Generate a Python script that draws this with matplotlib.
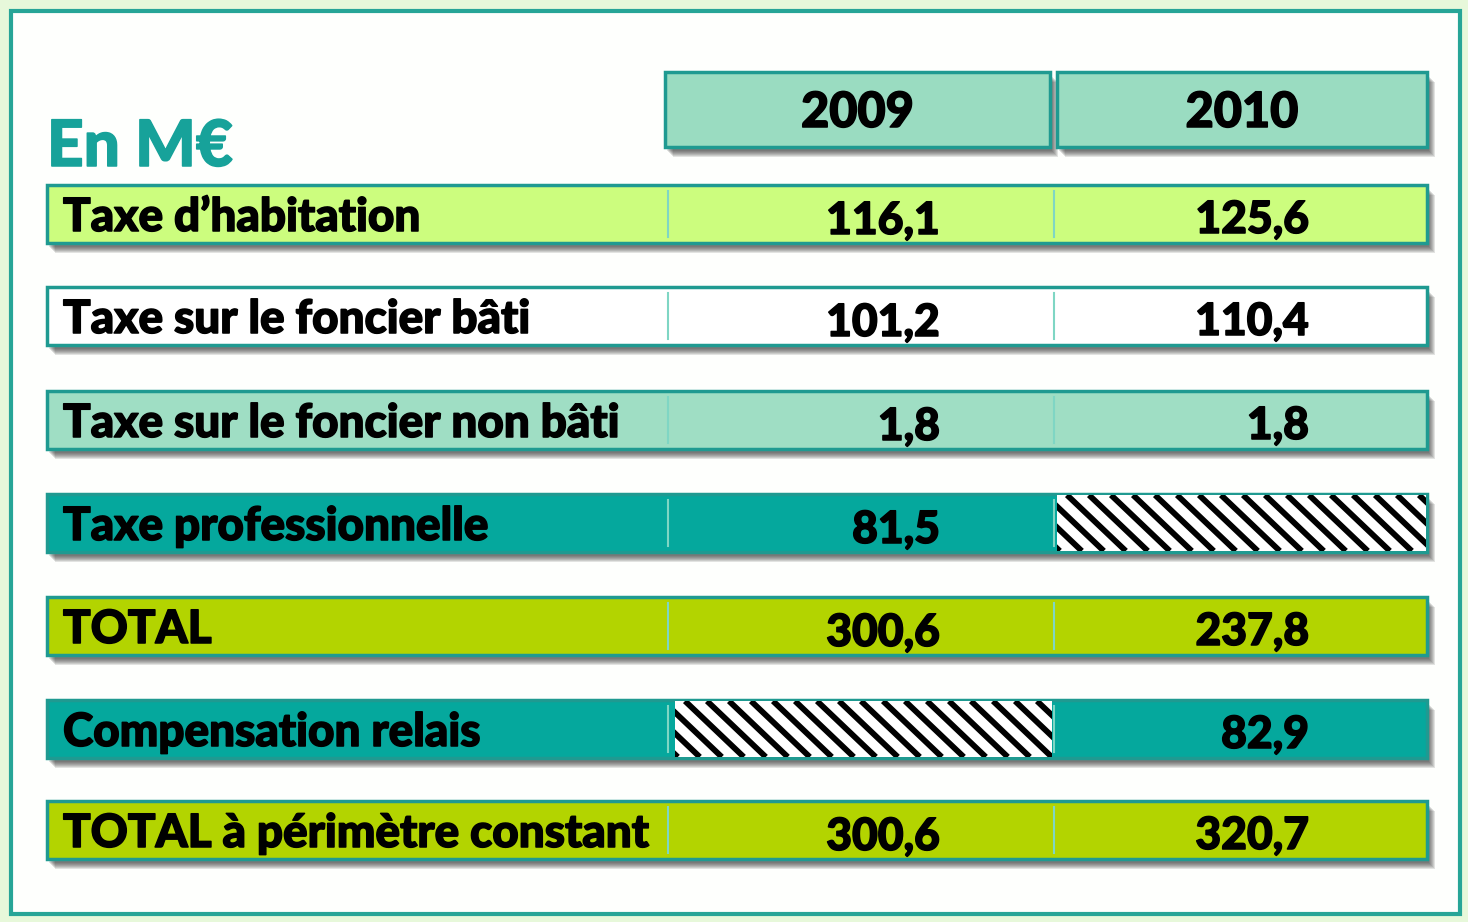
import numpy as np
import matplotlib
matplotlib.use("Agg")
import matplotlib.pyplot as plt
import matplotlib.patheffects as pe
from matplotlib.patches import Rectangle

# ---- data ----
title = "En M€"
years = ["2009", "2010"]
labels = ["Taxe d’habitation", "Taxe sur le foncier bâti", "Taxe sur le foncier non bâti",
          "Taxe professionnelle", "TOTAL", "Compensation relais", "TOTAL à périmètre constant"]
v2009 = [116.1, 101.2, 1.8, 81.5, 300.6, None, 300.6]
v2010 = [125.6, 110.4, 1.8, None, 237.8, 82.9, 320.7]
row_colors = ["#ccfd7e", "#ffffff", "#9fdec4", "#05a89d", "#b3d400", "#05a89d", "#b3d400"]

# ---- layout (pixels) ----
W, H = 1468, 922
row_tops = [185, 287, 391, 494, 597, 700, 801]
row_h = 58
x_left, x_c1, x_c2, x_right = 47, 668, 1054, 1427
border = "#1f9a91"
font = "Lato"
wt = "black"
bold_fx = [pe.withStroke(linewidth=1.1, foreground="black")]

fig = plt.figure(figsize=(W / 100, H / 100), dpi=100)
fig.patch.set_facecolor("#e7f8da")
ax = fig.add_axes([0, 0, 1, 1])
ax.set_xlim(0, W)
ax.set_ylim(H, 0)
ax.axis("off")

# outer frame
ax.add_patch(Rectangle((11, 11), W - 19, H - 19, facecolor="#fefffd",
                       edgecolor="#27a597", lw=3, zorder=1))


def shadow(x, y, w, h):
    for k in range(7):
        off = 2 + k
        ax.add_patch(Rectangle((x + off, y + off + 2), w, h, facecolor="#2a2a2a",
                               edgecolor="none", alpha=0.13, zorder=2))


def hatch_cell(x, y, w, h):
    bg = Rectangle((x, y), w, h, facecolor="white", edgecolor="none", zorder=5)
    ax.add_patch(bg)
    period = 22
    xs = np.arange(x - h - period, x + w + period, period)
    for x0 in xs:
        ln, = ax.plot([x0, x0 + h * 1.05], [y, y + h], color="black", lw=4.2,
                      solid_capstyle="butt", zorder=6)
        ln.set_clip_path(bg)


# title
ax.text(47, 166, title, fontsize=46, fontweight=wt, color="#17a29a",
        family=font, va="baseline", ha="left", zorder=10,
        path_effects=[pe.withStroke(linewidth=1.1, foreground="#17a29a")])

# header boxes
hdr = [(665, 1050), (1057, 1427)]
for (a, b), yr in zip(hdr, years):
    shadow(a, 72, b - a, 75)
    ax.add_patch(Rectangle((a, 72), b - a, 75, facecolor="#9adcc1",
                           edgecolor=border, lw=2.5, zorder=3))
    ax.text((a + b) / 2, 127, yr, fontsize=35, fontweight=wt, color="black",
            family=font, ha="center", va="baseline", zorder=10, path_effects=bold_fx)


def fmt(v):
    return f"{v:.1f}".replace(".", ",")


for i, lab in enumerate(labels):
    y = row_tops[i]
    shadow(x_left, y, x_right - x_left, row_h)
    ax.add_patch(Rectangle((x_left, y), x_right - x_left, row_h, facecolor=row_colors[i],
                           edgecolor=border, lw=2.5, zorder=3))
    # column separators
    for xc in (x_c1, x_c2):
        ax.plot([xc, xc], [y + 6, y + row_h - 6], color="#7fd6c4", lw=1.5, zorder=4)
    ax.text(63, y + 46, lab, fontsize=33, fontweight=wt, color="black",
            family=font, ha="left", va="baseline", zorder=10, path_effects=bold_fx)
    if v2009[i] is None:
        hatch_cell(675, y + 1, x_c2 - 675 - 2, row_h - 2)
    else:
        ax.text(940, y + 49, fmt(v2009[i]), fontsize=32, fontweight=wt,
                color="black", family=font, ha="right", va="baseline", zorder=10,
                path_effects=bold_fx)
    if v2010[i] is None:
        hatch_cell(x_c2 + 3, y + 1, x_right - x_c2 - 4, row_h - 2)
    else:
        ax.text(1309, y + 48, fmt(v2010[i]), fontsize=32, fontweight=wt,
                color="black", family=font, ha="right", va="baseline", zorder=10,
                path_effects=bold_fx)

fig.savefig("out.png", dpi=100, facecolor=fig.get_facecolor())
